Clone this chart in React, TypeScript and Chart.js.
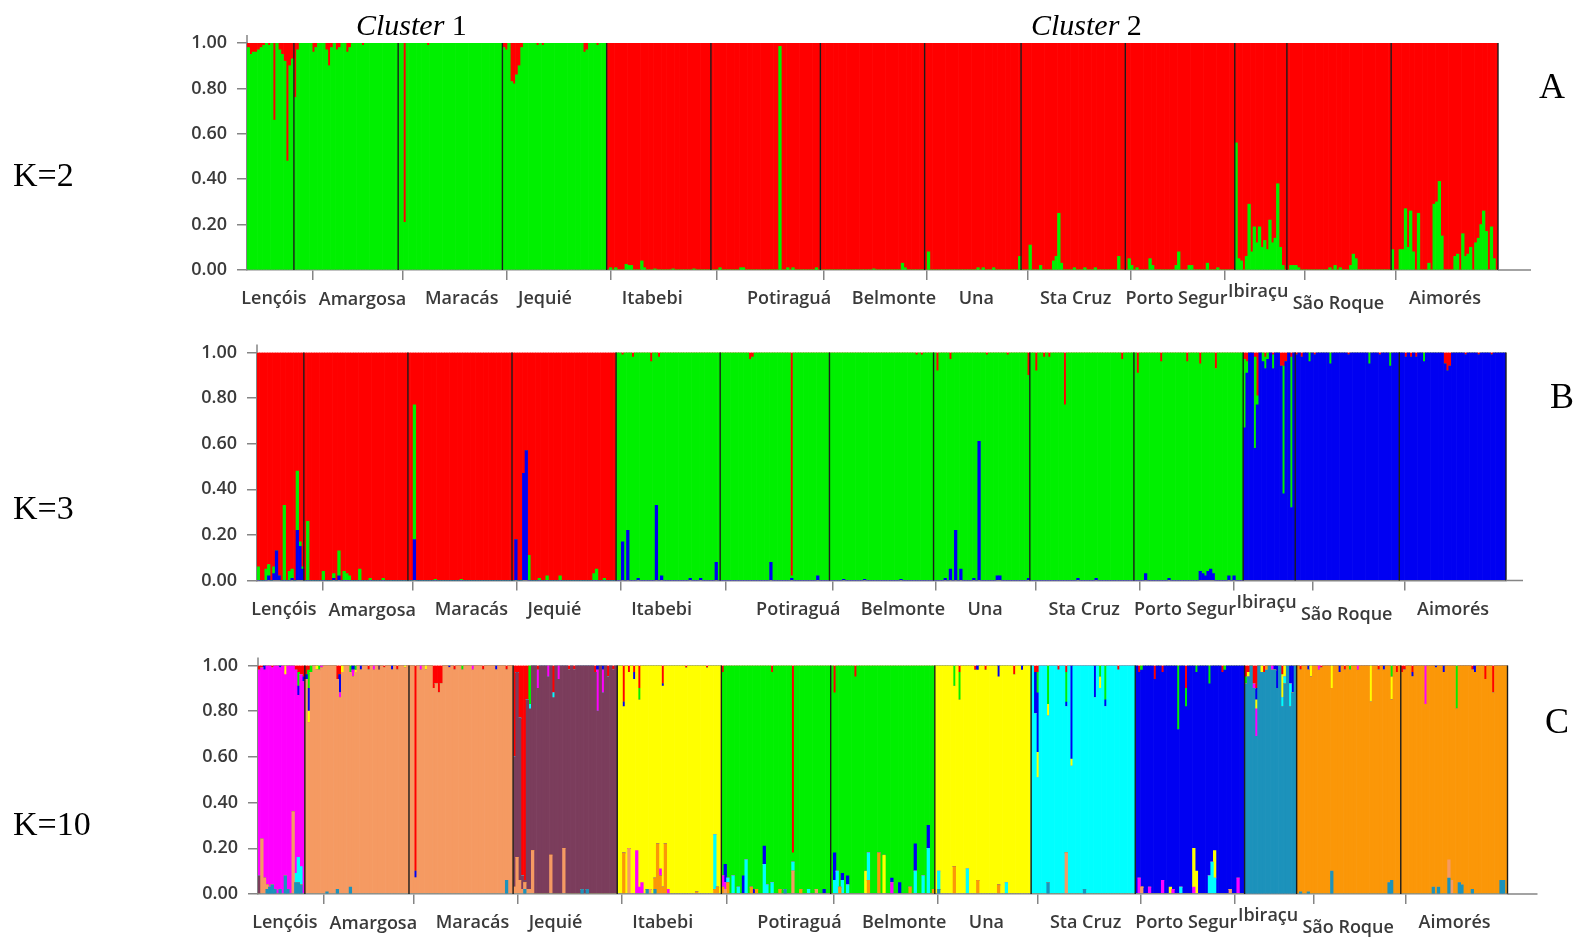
import React, { useEffect, useRef } from "react";
import { Chart, registerables } from "chart.js";

Chart.register(...registerables);

type Admix = [number, number, number, number]; // [population, individual, cluster, proportion]

// ---------------- DATA ----------------
const POPULATIONS = [
  "Lençóis", "Amargosa", "Maracás", "Jequié", "Itabebi", "Potiraguá", "Belmonte",
  "Una", "Sta Cruz", "Porto Segur", "Ibiraçu", "São Roque", "Aimorés",
];
const SAMPLE_SIZES = [18, 40, 40, 40, 40, 42, 40, 37, 40, 42, 20, 40, 41];
const Y_TICKS = [0, 0.2, 0.4, 0.6, 0.8, 1.0];

// K = 2 : clusters 0 green, 1 red
const K2_MAIN = [0, 0, 0, 0, 1, 1, 1, 1, 1, 1, 1, 1, 1];
const K2_ADMIX: Admix[] = [
  [0,0,1,0.02],[0,1,1,0.05],[0,2,1,0.04],[0,3,1,0.04],[0,4,1,0.03],[0,5,1,0.02],[0,6,1,0.01],[0,8,1,0.01],[0,10,1,0.34],[0,12,1,0.03],[0,13,1,0.05],[0,14,1,0.08],[0,15,1,0.52],[0,16,1,0.1],[0,17,1,0.07],
  [1,0,1,0.24],[1,1,1,0.03],[1,7,1,0.04],[1,8,1,0.02],[1,12,1,0.03],[1,13,1,0.1],[1,14,1,0.02],[1,16,1,0.03],[1,17,1,0.02],[1,20,1,0.04],[1,21,1,0.02],[1,26,1,0.01],
  [2,2,1,0.79],[2,11,1,0.01],
  [3,0,1,0.02],[3,1,1,0.03],[3,3,1,0.17],[3,4,1,0.18],[3,5,1,0.14],[3,6,1,0.1],[3,7,1,0.02],[3,13,1,0.01],[3,15,1,0.01],[3,31,1,0.04],[3,32,1,0.03],[3,36,1,0.01],
  [4,1,0,0.01],[4,3,0,0.01],[4,7,0,0.025],[4,8,0,0.02],[4,9,0,0.02],[4,13,0,0.04],[4,14,0,0.01],[4,18,0,0.005],[4,25,0,0.005],[4,33,0,0.005],
  [5,3,0,0.01],[5,11,0,0.01],[5,12,0,0.01],[5,26,0,0.985],[5,29,0,0.01],[5,31,0,0.01],[5,40,0,0.01],
  [6,20,0,0.005],[6,31,0,0.03],[6,32,0,0.01],
  [7,1,0,0.08],[7,20,0,0.01],[7,22,0,0.01],[7,26,0,0.01],[7,36,0,0.06],
  [8,3,0,0.11],[8,7,0,0.02],[8,12,0,0.04],[8,13,0,0.06],[8,14,0,0.25],[8,15,0,0.03],[8,20,0,0.01],[8,24,0,0.01],[8,28,0,0.01],[8,37,0,0.06],
  [9,1,0,0.05],[9,2,0,0.02],[9,4,0,0.01],[9,9,0,0.05],[9,10,0,0.02],[9,19,0,0.02],[9,20,0,0.08],[9,24,0,0.02],[9,25,0,0.02],[9,31,0,0.03],[9,35,0,0.01],
  [10,0,0,0.56],[10,1,0,0.05],[10,2,0,0.04],[10,4,0,0.06],[10,5,0,0.29],[10,6,0,0.08],[10,7,0,0.19],[10,8,0,0.12],[10,9,0,0.19],[10,10,0,0.1],[10,11,0,0.13],[10,12,0,0.09],[10,13,0,0.22],[10,14,0,0.12],[10,15,0,0.14],[10,16,0,0.38],[10,17,0,0.1],[10,18,0,0.02],
  [11,1,0,0.02],[11,2,0,0.02],[11,3,0,0.02],[11,4,0,0.01],[11,16,0,0.01],[11,18,0,0.02],[11,20,0,0.01],[11,24,0,0.02],[11,25,0,0.07],[11,26,0,0.05],
  [12,0,0,0.09],[12,3,0,0.09],[12,4,0,0.09],[12,5,0,0.27],[12,6,0,0.1],[12,7,0,0.26],[12,8,0,0.08],[12,10,0,0.25],[12,14,0,0.03],[12,16,0,0.29],[12,17,0,0.3],[12,18,0,0.39],[12,19,0,0.15],[12,24,0,0.06],[12,25,0,0.07],[12,27,0,0.16],[12,28,0,0.06],[12,29,0,0.07],[12,30,0,0.1],[12,32,0,0.12],[12,33,0,0.14],[12,34,0,0.2],[12,35,0,0.26],[12,36,0,0.17],[12,38,0,0.19],[12,39,0,0.05],
];

// K = 3 : clusters 0 blue, 1 green, 2 red
const K3_MAIN = [2, 2, 2, 2, 1, 1, 1, 1, 1, 1, 0, 0, 0];
const K3_ADMIX: Admix[] = [
  [0,0,1,0.06],[0,3,1,0.05],[0,4,1,0.05],[0,4,0,0.02],[0,6,1,0.03],[0,6,0,0.03],[0,7,0,0.13],[0,8,0,0.02],[0,10,1,0.33],[0,12,1,0.04],[0,13,1,0.04],[0,13,0,0.01],[0,15,0,0.22],[0,15,1,0.26],[0,16,0,0.15],[0,16,1,0.02],[0,17,0,0.05],[0,17,1,0.01],
  [1,1,1,0.26],[1,7,1,0.04],[1,11,0,0.01],[1,11,1,0.02],[1,13,1,0.11],[1,13,0,0.02],[1,15,1,0.04],[1,16,1,0.03],[1,17,1,0.02],[1,21,1,0.05],[1,25,1,0.01],[1,30,1,0.01],
  [2,2,0,0.18],[2,2,1,0.59],[2,10,1,0.005],[2,20,1,0.005],
  [3,1,0,0.18],[3,4,0,0.47],[3,5,0,0.57],[3,6,1,0.11],[3,10,1,0.01],[3,13,1,0.02],[3,18,1,0.02],[3,31,1,0.03],[3,32,1,0.05],[3,35,1,0.01],
  [4,2,0,0.17],[4,2,2,0.01],[4,4,0,0.22],[4,6,2,0.02],[4,8,0,0.01],[4,13,2,0.04],[4,15,0,0.33],[4,16,2,0.02],[4,17,0,0.02],[4,28,0,0.01],[4,32,0,0.01],[4,38,0,0.08],
  [5,11,2,0.03],[5,12,2,0.02],[5,19,0,0.08],[5,27,2,0.98],[5,27,0,0.01],[5,37,0,0.02],
  [6,5,0,0.005],[6,13,0,0.005],[6,27,0,0.005],[6,33,2,0.01],[6,35,2,0.01],
  [7,1,2,0.08],[7,4,0,0.01],[7,6,2,0.03],[7,6,0,0.05],[7,8,0,0.22],[7,10,0,0.05],[7,15,0,0.01],[7,17,0,0.61],[7,20,2,0.01],[7,24,0,0.02],[7,25,0,0.02],[7,28,2,0.01],[7,36,2,0.1],[7,36,0,0.01],
  [8,2,2,0.08],[8,5,2,0.02],[8,7,2,0.02],[8,13,2,0.23],[8,18,0,0.01],[8,25,0,0.01],[8,35,2,0.03],
  [9,1,2,0.09],[9,4,0,0.03],[9,10,2,0.04],[9,13,0,0.01],[9,20,2,0.04],[9,25,2,0.05],[9,25,0,0.04],[9,26,0,0.03],[9,27,0,0.02],[9,28,0,0.04],[9,29,0,0.05],[9,30,0,0.03],[9,31,2,0.07],[9,36,0,0.02],[9,38,0,0.02],
  [10,0,1,0.3],[10,0,2,0.03],[10,1,1,0.05],[10,1,2,0.04],[10,4,1,0.4],[10,4,2,0.02],[10,5,2,0.19],[10,5,1,0.04],[10,7,1,0.04],[10,8,1,0.05],[10,8,2,0.02],[10,9,1,0.03],[10,11,1,0.06],[10,11,2,0.01],[10,14,2,0.06],[10,15,1,0.56],[10,15,2,0.06],[10,16,2,0.04],[10,18,1,0.66],[10,18,2,0.02],
  [11,0,2,0.01],[11,2,2,0.02],[11,5,1,0.04],[11,7,2,0.01],[11,13,1,0.05],[11,20,2,0.01],[11,28,1,0.05],[11,32,2,0.01],[11,36,1,0.06],
  [12,2,2,0.02],[12,4,2,0.02],[12,6,2,0.02],[12,9,1,0.04],[12,17,2,0.05],[12,18,2,0.08],[12,19,2,0.06],[12,25,2,0.01],[12,30,2,0.01],[12,35,2,0.01],
];

// K = 10 : 0 teal, 1 salmon, 2 orange, 3 plum, 4 cyan, 5 magenta, 6 yellow, 7 blue, 8 green, 9 red
const K10_MAIN = [5, 1, 1, 3, 6, 8, 8, 6, 4, 7, 0, 2, 2];
const K10_ADMIX: Admix[] = [
  [0,0,3,0.08],[0,0,9,0.02],[0,1,1,0.24],[0,1,9,0.01],[0,2,1,0.07],[0,2,7,0.02],[0,3,0,0.02],[0,3,1,0.02],[0,4,0,0.03],[0,5,0,0.04],[0,5,9,0.01],[0,6,0,0.02],[0,8,0,0.02],[0,8,7,0.01],[0,10,0,0.08],[0,10,6,0.04],[0,11,0,0.02],[0,13,1,0.36],[0,14,0,0.05],[0,14,4,0.04],[0,14,9,0.02],[0,15,0,0.05],[0,15,4,0.11],[0,15,8,0.06],[0,15,7,0.04],[0,15,9,0.03],[0,16,0,0.04],[0,16,4,0.08],[0,16,9,0.04],[0,17,9,0.05],[0,17,7,0.02],
  [1,0,9,0.04],[1,0,7,0.02],[1,1,8,0.08],[1,1,7,0.1],[1,1,6,0.05],[1,1,9,0.02],[1,2,8,0.03],[1,4,6,0.02],[1,5,8,0.02],[1,6,5,0.01],[1,8,0,0.01],[1,12,9,0.06],[1,12,0,0.02],[1,13,7,0.08],[1,13,5,0.02],[1,13,9,0.04],[1,14,6,0.03],[1,17,0,0.03],[1,17,8,0.03],[1,18,5,0.03],[1,18,7,0.02],[1,19,8,0.02],[1,19,6,0.01],[1,21,7,0.02],[1,24,9,0.02],[1,26,5,0.02],[1,28,3,0.02],[1,30,9,0.01],[1,33,7,0.02],[1,35,9,0.02],[1,38,6,0.01],
  [2,2,9,0.9],[2,2,7,0.03],[2,4,5,0.02],[2,6,6,0.02],[2,9,9,0.1],[2,10,9,0.08],[2,11,9,0.12],[2,12,9,0.08],[2,15,7,0.01],[2,17,9,0.02],[2,20,8,0.02],[2,24,5,0.02],[2,28,9,0.02],[2,33,7,0.02],[2,37,0,0.06],[2,37,9,0.02],
  [3,0,9,0.4],[3,0,1,0.03],[3,1,1,0.16],[3,1,9,0.03],[3,2,9,0.23],[3,2,1,0.06],[3,3,9,0.92],[3,3,1,0.02],[3,4,9,0.94],[3,4,1,0.03],[3,4,0,0.02],[3,5,9,0.15],[3,5,1,0.02],[3,6,8,0.17],[3,6,1,0.02],[3,6,4,0.02],[3,7,1,0.19],[3,9,5,0.08],[3,9,9,0.02],[3,13,5,0.05],[3,14,1,0.17],[3,15,9,0.12],[3,15,4,0.02],[3,17,5,0.06],[3,19,1,0.2],[3,21,9,0.02],[3,23,9,0.02],[3,26,0,0.02],[3,28,0,0.02],[3,31,9,0.03],[3,32,5,0.18],[3,32,7,0.02],[3,34,5,0.1],[3,34,7,0.02],[3,36,9,0.05],[3,38,9,0.02],
  [4,2,2,0.18],[4,2,9,0.16],[4,2,7,0.02],[4,4,1,0.2],[4,4,9,0.03],[4,6,7,0.03],[4,6,9,0.03],[4,7,5,0.19],[4,8,9,0.1],[4,8,8,0.05],[4,8,5,0.03],[4,9,5,0.05],[4,11,0,0.02],[4,12,1,0.02],[4,14,2,0.05],[4,14,0,0.02],[4,15,2,0.22],[4,16,2,0.08],[4,16,5,0.03],[4,17,9,0.08],[4,17,7,0.01],[4,17,2,0.03],[4,18,2,0.22],[4,19,5,0.02],[4,26,9,0.01],[4,30,2,0.01],[4,34,9,0.01],[4,37,4,0.24],[4,37,2,0.02],[4,38,2,0.03],
  [5,0,5,0.05],[5,0,2,0.03],[5,0,9,0.03],[5,1,7,0.08],[5,1,5,0.03],[5,1,1,0.02],[5,2,2,0.05],[5,2,4,0.02],[5,4,4,0.08],[5,6,4,0.03],[5,8,7,0.08],[5,9,4,0.15],[5,11,2,0.03],[5,12,7,0.02],[5,13,2,0.02],[5,16,4,0.13],[5,16,7,0.08],[5,17,4,0.04],[5,19,4,0.05],[5,19,9,0.03],[5,22,2,0.02],[5,24,0,0.02],[5,27,9,0.82],[5,27,1,0.1],[5,27,4,0.04],[5,30,2,0.02],[5,33,4,0.02],[5,36,1,0.02],[5,39,7,0.02],
  [6,1,7,0.12],[6,1,4,0.06],[6,1,9,0.12],[6,2,4,0.1],[6,3,2,0.03],[6,4,4,0.06],[6,4,7,0.03],[6,6,7,0.04],[6,6,4,0.04],[6,9,9,0.05],[6,13,6,0.1],[6,14,4,0.12],[6,14,2,0.06],[6,18,2,0.18],[6,20,6,0.17],[6,23,5,0.05],[6,23,7,0.02],[6,26,7,0.05],[6,30,2,0.03],[6,32,4,0.1],[6,32,7,0.12],[6,35,4,0.08],[6,37,4,0.2],[6,37,7,0.1],[6,39,2,0.02],
  [7,1,4,0.08],[7,1,0,0.02],[7,7,2,0.12],[7,7,8,0.09],[7,9,8,0.12],[7,9,9,0.03],[7,12,4,0.11],[7,15,9,0.02],[7,16,2,0.06],[7,16,7,0.02],[7,19,9,0.02],[7,24,7,0.05],[7,24,2,0.04],[7,27,4,0.05],[7,30,9,0.04],[7,33,7,0.02],
  [8,1,7,0.18],[8,1,9,0.03],[8,2,6,0.11],[8,2,7,0.26],[8,2,8,0.09],[8,2,9,0.03],[8,6,8,0.17],[8,6,6,0.05],[8,6,0,0.05],[8,10,9,0.02],[8,13,1,0.18],[8,13,8,0.13],[8,13,7,0.02],[8,13,9,0.03],[8,15,7,0.41],[8,15,6,0.03],[8,20,0,0.02],[8,24,7,0.14],[8,26,6,0.05],[8,26,8,0.05],[8,28,8,0.15],[8,28,7,0.03],[8,33,9,0.02],
  [9,1,9,0.03],[9,1,5,0.07],[9,2,1,0.03],[9,2,8,0.02],[9,5,5,0.03],[9,7,9,0.06],[9,10,5,0.06],[9,10,9,0.03],[9,13,6,0.03],[9,14,5,0.02],[9,16,8,0.28],[9,17,4,0.03],[9,19,9,0.1],[9,19,8,0.08],[9,22,6,0.17],[9,22,5,0.03],[9,23,6,0.1],[9,23,8,0.03],[9,28,4,0.08],[9,28,8,0.08],[9,29,4,0.14],[9,30,4,0.07],[9,30,6,0.12],[9,33,9,0.03],[9,34,8,0.02],[9,36,1,0.02],[9,39,5,0.07],
  [10,0,9,0.05],[10,0,8,0.03],[10,1,9,0.03],[10,1,6,0.02],[10,3,9,0.08],[10,3,5,0.02],[10,4,9,0.1],[10,4,7,0.05],[10,4,5,0.12],[10,4,6,0.04],[10,6,6,0.03],[10,7,9,0.03],[10,8,2,0.02],[10,10,5,0.02],[10,11,7,0.02],[10,12,7,0.1],[10,14,6,0.1],[10,14,9,0.04],[10,14,4,0.04],[10,15,4,0.03],[10,15,6,0.05],[10,17,7,0.08],[10,17,4,0.1],[10,18,7,0.12],
  [11,1,9,0.02],[11,1,0,0.01],[11,4,7,0.02],[11,4,0,0.01],[11,5,6,0.05],[11,8,5,0.02],[11,9,9,0.01],[11,13,6,0.1],[11,13,0,0.1],[11,16,7,0.03],[11,18,9,0.02],[11,20,8,0.02],[11,23,5,0.02],[11,28,6,0.16],[11,31,9,0.02],[11,33,7,0.02],[11,35,0,0.05],[11,36,6,0.1],[11,36,8,0.05],[11,36,0,0.06],[11,38,9,0.03],
  [12,0,9,0.03],[12,1,9,0.02],[12,4,9,0.03],[12,4,7,0.02],[12,9,5,0.17],[12,12,0,0.03],[12,13,7,0.01],[12,14,0,0.03],[12,16,7,0.03],[12,18,0,0.07],[12,18,1,0.08],[12,19,1,0.06],[12,21,8,0.19],[12,22,0,0.05],[12,23,0,0.04],[12,27,0,0.02],[12,27,9,0.02],[12,28,7,0.03],[12,32,9,0.06],[12,35,9,0.12],[12,38,0,0.06],[12,39,0,0.06],
];

// ---------------- STYLE ----------------
const K2_COLORS = ["#00f000", "#ff0000"];
const K3_COLORS = ["#0000f2", "#00f000", "#ff0000"];
const K10_COLORS = [
  "#1c92bb", "#f59a62", "#fb9708", "#7b3d5c", "#00ffff",
  "#ff00ff", "#ffff00", "#0000f2", "#00f000", "#ff0000",
];
const TICK_SHIFT = 1.7;
const LABEL_NUDGE: [number, number][] = [
  [-1, 0], [12, 1], [7, 0], [-14, 0], [-11, 0], [19, 0], [17, 0],
  [-1, 0], [-2, 0], [-8, 0], [-7, -7], [-5, 5], [-4, 0],
];
const AXIS_COLOR = "#858585";
const TEXT_COLOR = "#3a3a3a";
const SANS = '"Open Sans", "Noto Sans", sans-serif';
const SERIF = '"Liberation Serif", "Times New Roman", serif';

type Box = {
  top: number; height: number; left: number; right: number;
  plotTop: number; plotBottom: number; extRight: number;
};
const PANEL_BOXES: Box[] = [
  { top: 0, height: 320, left: 247, right: 1498, plotTop: 43, plotBottom: 270, extRight: 33 },
  { top: 325, height: 310, left: 257, right: 1506, plotTop: 352.5, plotBottom: 580.5, extRight: 17 },
  { top: 635, height: 305, left: 258, right: 1507.5, plotTop: 665.5, plotBottom: 894, extRight: 30 },
];
const CANVAS_W = 1577;
const Y_AXIS_W = 60;
const X_AXIS_H = 40;

function buildQ(main: number[], admix: Admix[], k: number) {
  const starts: number[] = [];
  let acc = 0;
  SAMPLE_SIZES.forEach((n) => { starts.push(acc); acc += n; });
  const q: number[][] = Array.from({ length: k }, () => new Array(acc).fill(0));
  SAMPLE_SIZES.forEach((n, p) => {
    for (let i = 0; i < n; i++) q[main[p]][starts[p] + i] = 1;
  });
  admix.forEach(([p, i, c, v]) => {
    const idx = starts[p] + i;
    q[c][idx] += v;
    q[main[p]][idx] -= v;
  });
  return { q, starts: [...starts, acc], total: acc };
}

function StructurePanel({ box, main, admix, colors }: { box: Box; main: number[]; admix: Admix[]; colors: string[] }) {
  const ref = useRef<HTMLCanvasElement>(null);
  useEffect(() => {
    if (!ref.current) return;
    const { q, starts, total } = buildQ(main, admix, colors.length);
    const tickValues = SAMPLE_SIZES.map((n, p) => starts[p] + n / 2 + TICK_SHIFT);
    const datasets = q.map((col, c) => ({
      label: `Cluster ${c + 1}`,
      data: col.map((v, i) => ({ x: i + 0.5, y: Math.max(0, v) })),
      backgroundColor: colors[c],
      borderWidth: 0,
      barPercentage: 1,
      categoryPercentage: 1,
    }));

    const decor = {
      id: "structureDecor",
      afterDatasetsDraw(chart: any) {
        const { ctx, scales } = chart;
        const x = scales.x, y = scales.y;
        const yTop = y.getPixelForValue(1);
        const yBot = y.getPixelForValue(0);
        ctx.save();
        ctx.strokeStyle = "#1c1c1c";
        ctx.lineWidth = 1.4;
        for (let p = 1; p < starts.length; p++) {
          const px = x.getPixelForValue(starts[p]);
          ctx.beginPath();
          ctx.moveTo(px, yTop);
          ctx.lineTo(px, yBot);
          ctx.stroke();
        }
        ctx.restore();
      },
      afterDraw(chart: any) {
        const { ctx, chartArea, scales } = chart;
        const x = scales.x;
        ctx.save();
        ctx.strokeStyle = AXIS_COLOR;
        ctx.lineWidth = 1.5;
        ctx.beginPath();
        ctx.moveTo(chartArea.right, chartArea.bottom);
        ctx.lineTo(chartArea.right + box.extRight, chartArea.bottom);
        ctx.moveTo(chartArea.left, chartArea.top);
        ctx.lineTo(chartArea.left, chartArea.top - 8);
        ctx.stroke();
        ctx.fillStyle = TEXT_COLOR;
        ctx.font = `600 18px ${SANS}`;
        ctx.textAlign = "center";
        ctx.textBaseline = "middle";
        POPULATIONS.forEach((name, p) => {
          const [dx, dy] = LABEL_NUDGE[p];
          ctx.fillText(name, x.getPixelForValue(tickValues[p]) + dx, chartArea.bottom + 29 + dy);
        });
        ctx.restore();
      },
    };

    const chart = new Chart(ref.current, {
      type: "bar",
      data: { datasets } as any,
      options: {
        responsive: false,
        animation: false,
        events: [],
        layout: {
          padding: {
            top: box.plotTop - box.top,
            left: box.left - Y_AXIS_W,
            right: CANVAS_W - box.right,
            bottom: box.height - (box.plotBottom - box.top) - X_AXIS_H,
          },
        },
        plugins: { legend: { display: false }, tooltip: { enabled: false } },
        scales: {
          x: {
            type: "linear",
            min: 0,
            max: total,
            stacked: true,
            offset: false,
            z: 1,
            afterBuildTicks: (s: any) => { s.ticks = tickValues.map((v) => ({ value: v })); },
            afterFit: (s: any) => { s.height = X_AXIS_H; },
            grid: { drawOnChartArea: false, drawTicks: true, tickLength: 10, color: AXIS_COLOR, lineWidth: 1.5 },
            border: { display: true, color: AXIS_COLOR, width: 1.5 },
            ticks: { display: false },
          },
          y: {
            min: 0,
            max: 1,
            stacked: true,
            z: 1,
            afterBuildTicks: (s: any) => { s.ticks = Y_TICKS.map((v) => ({ value: v })); },
            afterFit: (s: any) => { s.width = Y_AXIS_W; },
            grid: { drawOnChartArea: false, drawTicks: true, tickLength: 10, color: AXIS_COLOR, lineWidth: 1.5 },
            border: { display: true, color: AXIS_COLOR, width: 1.5 },
            ticks: {
              padding: 10,
              color: TEXT_COLOR,
              font: { family: SANS, size: 18, weight: "600" },
              callback: (v: any) => Number(v).toFixed(2),
            },
          },
        },
      } as any,
      plugins: [decor],
    });
    return () => chart.destroy();
  }, []);
  return (
    <canvas
      ref={ref}
      width={CANVAS_W}
      height={box.height}
      style={{ position: "absolute", left: 0, top: box.top, width: CANVAS_W, height: box.height }}
    />
  );
}

function Label({ text, size, left, top, children }: { text?: string; size: number; left: number; top: number; children?: React.ReactNode }) {
  return (
    <div
      style={{
        position: "absolute", left, top, fontFamily: SERIF, fontSize: size,
        lineHeight: `${size}px`, whiteSpace: "nowrap", color: "#000",
      }}
    >
      {children ?? text}
    </div>
  );
}

export default function App() {
  return (
    <div style={{ position: "absolute", left: 0, top: 0, width: 1577, height: 940, background: "#fff", overflow: "hidden" }}>
      <StructurePanel box={PANEL_BOXES[0]} main={K2_MAIN} admix={K2_ADMIX} colors={K2_COLORS} />
      <StructurePanel box={PANEL_BOXES[1]} main={K3_MAIN} admix={K3_ADMIX} colors={K3_COLORS} />
      <StructurePanel box={PANEL_BOXES[2]} main={K10_MAIN} admix={K10_ADMIX} colors={K10_COLORS} />
      <Label size={30} left={356} top={10}><i>Cluster</i> 1</Label>
      <Label size={30} left={1031} top={10}><i>Cluster</i> 2</Label>
      <Label text="K=2" size={34} left={13} top={158} />
      <Label text="K=3" size={34} left={13} top={491} />
      <Label text="K=10" size={34} left={13} top={807} />
      <Label text="A" size={36} left={1539} top={68} />
      <Label text="B" size={36} left={1550} top={378} />
      <Label text="C" size={36} left={1545} top={703} />
    </div>
  );
}
